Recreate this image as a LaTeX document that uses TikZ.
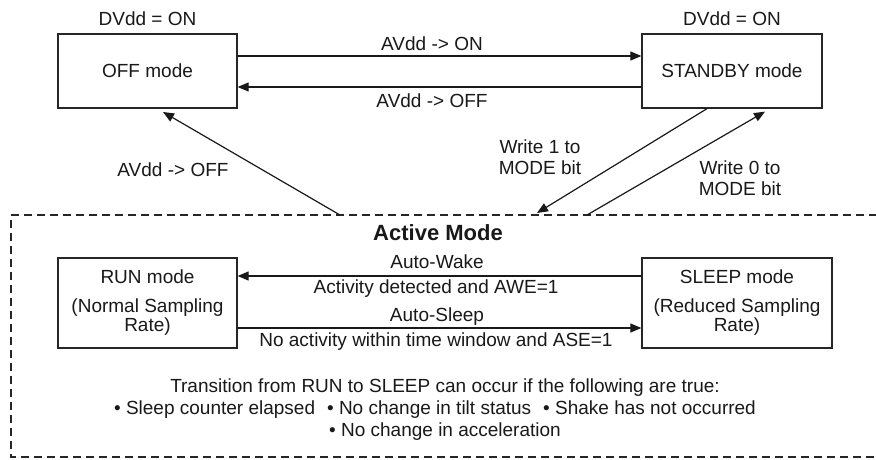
\documentclass[tikz,border=0pt]{standalone}
\usepackage{fontspec}
\setmainfont{Liberation Sans}
\usetikzlibrary{arrows.meta}
\begin{document}
\begin{tikzpicture}[x=1pt,y=-1pt,
  every node/.style={font=\fontsize{19}{21}\selectfont, inner sep=0pt, text=black!90},
  modebox/.style={draw=black!85, line width=1.3pt, align=center},
  conn/.style={draw=black!90, line width=1.2pt},
  arr/.style={conn, -{Triangle[length=11pt,width=9pt]}},
  lbl/.style={align=center},
  activebox/.style={draw=black!85, line width=2pt, dash pattern=on 8pt off 5pt}
]
\useasboundingbox (0,0) rectangle (876,460);
\fill[white] (0,0) rectangle (876,460);

% dashed Active Mode frame (right edge lies outside the picture)
\draw[activebox] (890,215) -- (11,215) -- (11,457) -- (890,457);

% top boxes
\node[modebox, minimum width=179pt, minimum height=74pt] (off) at (147.5,71) {OFF mode};
\node[modebox, minimum width=180pt, minimum height=74pt] (stby) at (732,71) {STANDBY mode};
\node (dv1) at (147.5,19) {DVdd = ON};
\node (dv2) at (732,19) {DVdd = ON};

% active boxes
\node[modebox, minimum width=179pt, minimum height=90pt] (run) at (147.5,303) {RUN mode\\[8pt](Normal Sampling\\[-2pt]Rate)};
\node[modebox, minimum width=190pt, minimum height=90pt] (sleep) at (737,303) {SLEEP mode\\[8pt](Reduced Sampling\\[-2pt]Rate)};

% OFF <-> STANDBY
\draw[arr] ([yshift=15pt]off.east) -- ([yshift=15pt]off.east -| stby.west);
\draw[arr] ([yshift=-16pt]stby.west) -- ([yshift=-16pt]stby.west -| off.east);
\node (l1) at (432,44) {AVdd -> ON};
\node (l2) at (432,101) {AVdd -> OFF};

% Active -> OFF
\coordinate (aoff) at (340,215);
\coordinate (offin) at (163,112);
\draw[arr] (aoff) -- (offin);
\node (l3) at (173,170) {AVdd -> OFF};

% STANDBY <-> Active
\coordinate (w1s) at ([xshift=-25pt]stby.south);
\coordinate (w1e) at (537,213);
\draw[arr] (w1s) -- (w1e);
\coordinate (w0s) at (587,215);
\coordinate (w0e) at ([xshift=33pt,yshift=-3pt]stby.south);
\draw[arr] (w0s) -- (w0e);
\node[lbl] (l4) at (540,157) {Write 1 to\\MODE bit};
\node[lbl] (l5) at (740,178) {Write 0 to\\MODE bit};

% Active mode
\node[font=\fontsize{22}{24}\selectfont\bfseries] (am) at (438,233) {Active Mode};
\draw[arr] ([yshift=27pt]sleep.west) -- ([yshift=27pt]sleep.west -| run.east);
\draw[arr] ([yshift=-25pt]run.east) -- ([yshift=-25pt]run.east -| sleep.west);
\node (l6) at (437,262) {Auto-Wake};
\node (l7) at (436,289) {Activity detected and AWE=1};
\node (l8) at (437,317) {Auto-Sleep};
\node (l9) at (436,342) {No activity within time window and ASE=1};

% conditions
\node (t1) at (445,388) {Transition from RUN to SLEEP can occur if the following are true:};
\node (t2) at (435,410) {• Sleep counter elapsed\hspace{12pt}• No change in tilt status\hspace{12pt}• Shake has not occurred};
\node (t3) at (445,432) {• No change in acceleration};
\end{tikzpicture}
\end{document}
